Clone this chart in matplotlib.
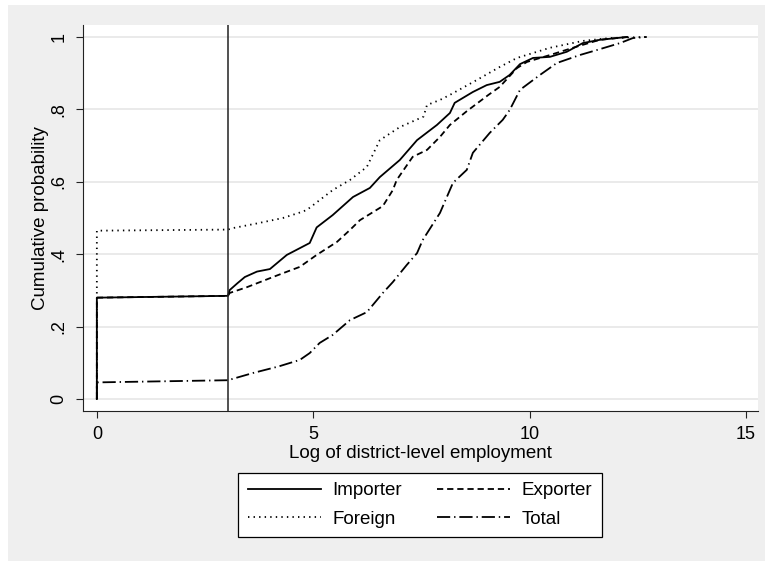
import matplotlib
matplotlib.use("Agg")
import matplotlib.pyplot as plt
from matplotlib.patches import Rectangle

plt.rcParams['font.family'] = ['Liberation Sans', 'DejaVu Sans']
plt.rcParams['lines.scale_dashes'] = False

# traced empirical CDFs (log district-level employment)
imp_x = [0, 0, 3.03, 3.07, 3.25, 3.42, 3.7, 4.0, 4.39, 4.92, 5.08, 5.45, 5.92, 6.31, 6.54,
         7.0, 7.40, 7.86, 8.16, 8.27, 8.69, 9.01, 9.31, 9.54, 9.78, 10.08, 10.47, 10.86,
         11.23, 11.62, 12.02, 12.25]
imp_y = [0, 0.280, 0.285, 0.301, 0.32, 0.337, 0.352, 0.359, 0.398, 0.431, 0.474, 0.508, 0.558,
         0.583, 0.613, 0.66, 0.715, 0.757, 0.790, 0.818, 0.848, 0.867, 0.876, 0.895, 0.925,
         0.942, 0.945, 0.959, 0.983, 0.992, 0.997, 1.0]

exp_x = [0, 0, 3.03, 3.07, 3.47, 4.07, 4.4, 4.69, 5.08, 5.55, 5.85, 6.08, 6.61, 6.84, 6.93,
         7.30, 7.63, 7.93, 8.16, 8.55, 9.05, 9.31, 9.71, 9.94, 10.47, 11.0, 11.62, 12.02, 12.3]
exp_y = [0, 0.280, 0.285, 0.293, 0.309, 0.337, 0.352, 0.365, 0.398, 0.434, 0.467, 0.494, 0.533,
         0.577, 0.605, 0.669, 0.688, 0.724, 0.757, 0.795, 0.84, 0.862, 0.914, 0.931, 0.950,
         0.970, 0.992, 0.997, 1.0]

for_x = [0, 0, 3.03, 3.14, 3.7, 4.30, 4.69, 4.85, 5.45, 5.85, 6.24, 6.54, 7.0, 7.55, 7.63,
         7.93, 8.16, 8.78, 9.31, 9.71, 10.47, 11.23, 11.86, 12.71]
for_y = [0, 0.465, 0.468, 0.472, 0.485, 0.500, 0.515, 0.522, 0.577, 0.605, 0.641, 0.715, 0.751,
         0.78, 0.812, 0.826, 0.840, 0.881, 0.917, 0.942, 0.970, 0.989, 0.997, 1.0]

tot_x = [0, 0, 3.03, 3.61, 4.2, 4.69, 4.92, 5.15, 5.45, 5.85, 6.24, 6.61, 6.84, 7.16, 7.40,
         7.53, 7.93, 8.23, 8.55, 8.69, 9.08, 9.38, 9.54, 9.66, 9.78, 10.24, 10.63, 11.16,
         11.56, 12.09, 12.39, 12.71]
tot_y = [0, 0.046, 0.052, 0.072, 0.09, 0.108, 0.127, 0.155, 0.177, 0.218, 0.240, 0.293, 0.323,
         0.370, 0.403, 0.439, 0.514, 0.597, 0.633, 0.680, 0.735, 0.771, 0.798, 0.826, 0.854,
         0.895, 0.928, 0.950, 0.964, 0.983, 0.997, 1.0]

cutoff = 3.03
xticks = [0, 5, 10, 15]
yticks = [0, 0.2, 0.4, 0.6, 0.8, 1.0]
ytick_labels = ['0', '.2', '.4', '.6', '.8', '1']

fig = plt.figure(figsize=(7.65, 5.61), dpi=100, facecolor='white')
fig.patches.append(Rectangle((8 / 765, 0), 1, 1 - 5 / 561, transform=fig.transFigure,
                             facecolor='#efefef', edgecolor='none', zorder=-10))

ax = fig.add_axes([83 / 765, 1 - 411 / 561, 675 / 765, 386 / 561])
ax.set_facecolor('white')

lw = 1.3
l_imp, = ax.plot(imp_x, imp_y, color='black', lw=lw, linestyle='-', label='Importer')
l_exp, = ax.plot(exp_x, exp_y, color='black', lw=lw, linestyle=(0, (4.5, 2.8)), label='Exporter')
l_for, = ax.plot(for_x, for_y, color='black', lw=lw, linestyle=(0, (1.0, 3.0)), label='Foreign')
l_tot, = ax.plot(tot_x, tot_y, color='black', lw=lw, linestyle=(0, (9.5, 2.8, 1.0, 2.8)),
                 label='Total')
ax.axvline(cutoff, color='#222222', lw=1.1)

ax.set_xlim(-0.32, 15.28)
ax.set_ylim(-0.033, 1.033)
ax.set_xticks(xticks)
ax.set_yticks(yticks)
ax.set_yticklabels(ytick_labels, rotation=90, va='center')
ax.tick_params(axis='both', direction='out', length=5, width=0.8, colors='#222222',
               labelsize=13, labelcolor='black')
ax.tick_params(axis='x', pad=6)
ax.tick_params(axis='y', pad=6)
ax.grid(axis='y', color='#e6e6e6', lw=1.2)
ax.set_axisbelow(True)
for s in ['top', 'right']:
    ax.spines[s].set_visible(False)
for s in ['left', 'bottom']:
    ax.spines[s].set_color('#222222')
    ax.spines[s].set_linewidth(0.8)

ax.set_xlabel('Log of district-level employment', fontsize=13.5)
ax.set_ylabel('Cumulative probability', fontsize=13.5)
ax.xaxis.set_label_coords(0.5, -0.088)
ax.yaxis.set_label_coords(-0.05, 0.5)

leg = fig.legend(handles=[l_imp, l_for, l_exp, l_tot], ncol=2, loc='center',
                 bbox_to_anchor=(420 / 765, 1 - 505 / 561), fontsize=13.5,
                 handlelength=3.9, handletextpad=0.6, columnspacing=1.9,
                 labelspacing=0.62, borderpad=0.5, fancybox=False, framealpha=1)
leg.get_frame().set_edgecolor('black')
leg.get_frame().set_linewidth(0.9)

fig.savefig('out.png', dpi=100, facecolor=fig.get_facecolor())
